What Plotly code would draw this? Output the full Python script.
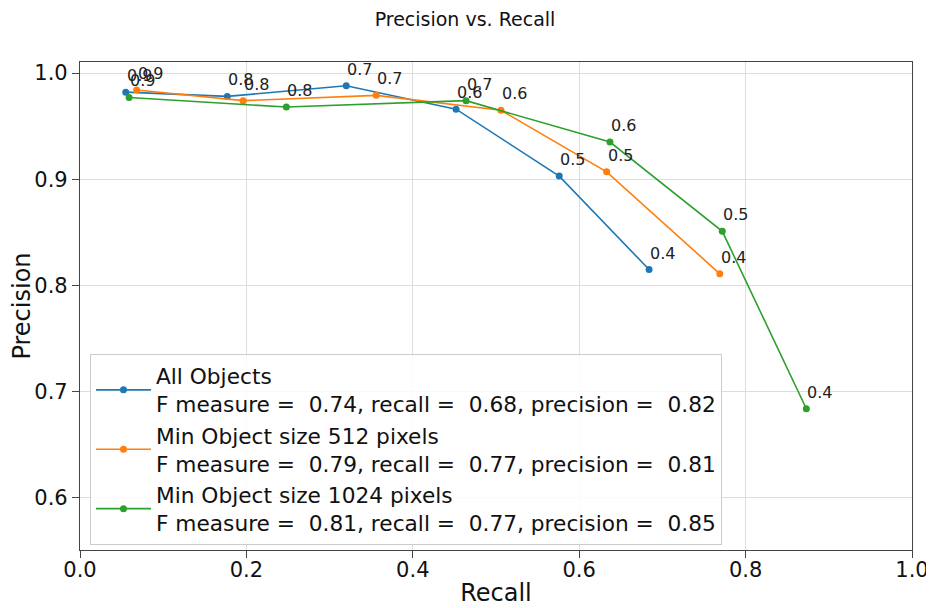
import plotly.graph_objects as go

thresholds = ["0.9", "0.8", "0.7", "0.6", "0.5", "0.4"]

all_recall = [0.055, 0.177, 0.320, 0.452, 0.576, 0.684]
all_precision = [0.982, 0.978, 0.988, 0.966, 0.903, 0.815]

s512_recall = [0.068, 0.196, 0.356, 0.506, 0.633, 0.769]
s512_precision = [0.984, 0.974, 0.979, 0.965, 0.907, 0.811]

s1024_recall = [0.059, 0.248, 0.464, 0.637, 0.772, 0.873]
s1024_precision = [0.977, 0.968, 0.974, 0.935, 0.851, 0.684]

names = [
    "All Objects<br>F measure =\u00a0 0.74, recall =\u00a0 0.68, precision =\u00a0 0.82",
    "Min Object size 512 pixels<br>F measure =\u00a0 0.79, recall =\u00a0 0.77, precision =\u00a0 0.81",
    "Min Object size 1024 pixels<br>F measure =\u00a0 0.81, recall =\u00a0 0.77, precision =\u00a0 0.85",
]
colors = ["#1f77b4", "#ff7f0e", "#2ca02c"]

FONT = "DejaVu Sans, sans-serif"
W, H = 926, 600  # page has an 8px body margin

fig = go.Figure()
for xs, ys, name, c in zip(
    [all_recall, s512_recall, s1024_recall],
    [all_precision, s512_precision, s1024_precision],
    names, colors,
):
    fig.add_trace(go.Scatter(
        x=xs, y=ys, name=name, mode="lines+markers",
        line=dict(color=c, width=1.6),
        marker=dict(color=c, size=7),
    ))
    for x, y, t in zip(xs, ys, thresholds):
        fig.add_annotation(
            x=x, y=y, text=t, showarrow=False,
            xanchor="left", yanchor="bottom", xshift=-1, yshift=5,
            font=dict(family=FONT, size=16, color="#222222"),
        )

fig.update_layout(
    width=W, height=H,
    margin=dict(l=72, r=22, t=54, b=58),
    paper_bgcolor="white", plot_bgcolor="white",
    font=dict(family=FONT, size=18, color="#111111"),
    title=dict(text="Precision vs. Recall", x=457 / W, xanchor="center",
               y=1 - 11 / H, yanchor="middle",
               font=dict(family=FONT, size=19, color="#111111")),
    legend=dict(
        x=0.012, y=0.01, xanchor="left", yanchor="bottom",
        bgcolor="rgba(255,255,255,0.85)", bordercolor="#cccccc", borderwidth=1,
        font=dict(family=FONT, size=21.7, color="#111111"),
        tracegroupgap=2, itemwidth=55,
    ),
    showlegend=True,
)
fig.update_xaxes(
    range=[0, 1.0], tickvals=[0, 0.2, 0.4, 0.6, 0.8, 1.0],
    ticktext=["0.0", "0.2", "0.4", "0.6", "0.8", "1.0"],
    showgrid=True, gridcolor="#dddddd", gridwidth=1,
    showline=True, linecolor="#444444", linewidth=1.2, mirror=True,
    ticks="outside", ticklen=7, tickcolor="#444444",
    tickfont=dict(size=21), zeroline=False, automargin=False,
    ticklabelstandoff=-6,
    title=dict(text="Recall", font=dict(size=24), standoff=2),
)
fig.update_yaxes(
    range=[0.551, 1.0104], tickvals=[0.6, 0.7, 0.8, 0.9, 1.0],
    ticktext=["0.6", "0.7", "0.8", "0.9", "1.0"],
    showgrid=True, gridcolor="#dddddd", gridwidth=1,
    showline=True, linecolor="#444444", linewidth=1.2, mirror=True,
    ticks="outside", ticklen=7, tickcolor="#444444",
    tickfont=dict(size=21), zeroline=False, automargin=False,
    title=dict(text="Precision", font=dict(size=24), standoff=2),
)

fig.write_html("out.html")
